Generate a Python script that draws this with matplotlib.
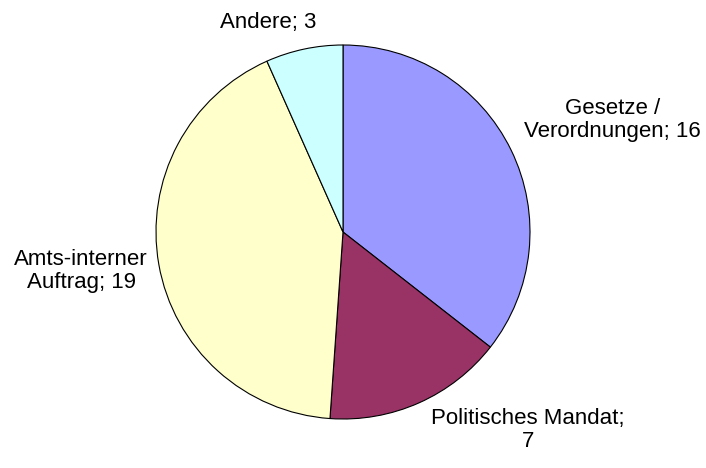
import matplotlib.pyplot as plt
import numpy as np

# Data
labels = ["Gesetze /\nVerordnungen; 16", "Politisches Mandat;\n7",
          "Amts-interner\nAuftrag; 19", "Andere; 3"]
values = [16, 7, 19, 3]
colors = ["#9999FF", "#993366", "#FFFFCC", "#CCFFFF"]

# label positions (in pie radius units, relative to centre)
label_pos = [(1.44, 0.60), (0.99, -1.06), (-1.40, -0.21), (-0.40, 1.12)]

plt.rcParams['font.family'] = ['Liberation Sans', 'DejaVu Sans']

fig = plt.figure(figsize=(7.06, 4.68), dpi=100)
ax = fig.add_axes([0, 0, 1, 1])

ax.pie(values, colors=colors, startangle=90, counterclock=False,
       radius=1.0, wedgeprops=dict(edgecolor='black', linewidth=0.8))

for lab, (x, y) in zip(labels, label_pos):
    ax.text(x, y, lab, ha='center', va='center', fontsize=16,
            linespacing=1.15)

# centre at (343, 232) px, radius 187 px
ax.set_xlim(-343 / 187, (706 - 343) / 187)
ax.set_ylim(-(468 - 232) / 187, 232 / 187)
ax.set_aspect('equal')
ax.axis('off')

fig.savefig("out.png", dpi=100)
